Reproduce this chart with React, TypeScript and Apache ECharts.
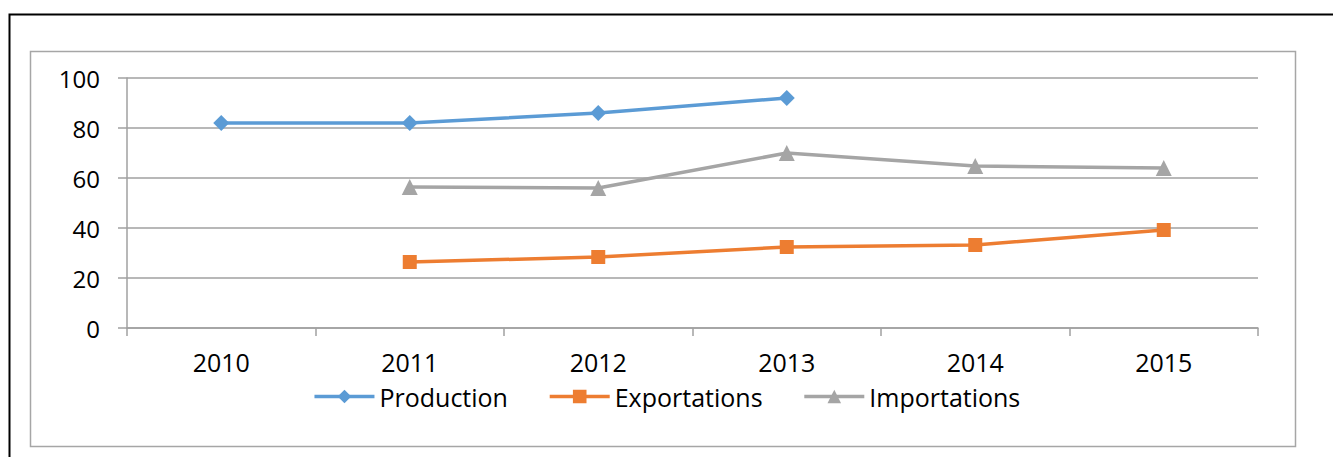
import React, { useEffect, useRef } from "react";
import * as echarts from "echarts";

const categories = ["2010", "2011", "2012", "2013", "2014", "2015"];
const production = [82, 82, 86, 92, null, null];
const exportations = [null, 26.4, 28.4, 32.4, 33.2, 39.2];
const importations = [null, 56.4, 56, 70, 64.8, 64];
const seriesNames = ["Production", "Exportations", "Importations"];
const colors = ["#5B9BD5", "#ED7D31", "#A5A5A5"];

const FONT = "'Open Sans', sans-serif";

export default function App() {
  const ref = useRef<HTMLDivElement>(null);
  useEffect(() => {
    if (!ref.current) return;
    const chart = echarts.init(ref.current, undefined, { renderer: "svg" });
    chart.setOption({
      animation: false,
      backgroundColor: "#ffffff",
      textStyle: { fontFamily: FONT },
      graphic: [
        {
          type: "rect",
          shape: { x: 9.5, y: 14.5, width: 1400, height: 500 },
          style: { fill: "none", stroke: "#000000", lineWidth: 2 },
          silent: true,
        },
        {
          type: "rect",
          shape: { x: 30.5, y: 51.5, width: 1265, height: 395 },
          style: { fill: "none", stroke: "#a6a6a6", lineWidth: 1.5 },
          silent: true,
        },
      ],
      grid: { left: 127, right: 75, top: 78, bottom: 129 },
      legend: {
        data: seriesNames,
        left: "center",
        top: 379,
        itemWidth: 60,
        itemHeight: 17,
        itemGap: 40,
        lineStyle: { width: 3.5 },
        textStyle: { fontFamily: FONT, fontSize: 25, color: "#000" },
      },
      xAxis: {
        type: "category",
        data: categories,
        boundaryGap: true,
        axisLine: { lineStyle: { color: "#a0a0a0", width: 1.5 } },
        axisTick: { show: true, length: 8, lineStyle: { color: "#a0a0a0", width: 1.5 } },
        axisLabel: { fontFamily: FONT, fontSize: 25, color: "#000", margin: 21 },
        splitLine: { show: false },
      },
      yAxis: {
        type: "value",
        min: 0,
        max: 100,
        interval: 20,
        axisLine: { show: true, lineStyle: { color: "#a0a0a0", width: 1.5 } },
        axisTick: { show: true, length: 9, lineStyle: { color: "#a0a0a0", width: 1.5 } },
        axisLabel: { fontFamily: FONT, fontSize: 24, color: "#000", margin: 27 },
        splitLine: { show: true, lineStyle: { color: "#a0a0a0", width: 1.5 } },
      },
      series: [
        {
          name: seriesNames[0],
          type: "line",
          data: production,
          symbol: "diamond",
          symbolSize: 16,
          itemStyle: { color: colors[0] },
          lineStyle: { color: colors[0], width: 3.5 },
        },
        {
          name: seriesNames[1],
          type: "line",
          data: exportations,
          symbol: "rect",
          symbolSize: 14,
          itemStyle: { color: colors[1] },
          lineStyle: { color: colors[1], width: 3.5 },
        },
        {
          name: seriesNames[2],
          type: "line",
          data: importations,
          symbol: "triangle",
          symbolSize: 16,
          itemStyle: { color: colors[2] },
          lineStyle: { color: colors[2], width: 3.5 },
        },
      ],
    });
    return () => chart.dispose();
  }, []);
  return (
    <div
      ref={ref}
      style={{ position: "absolute", left: 0, top: 0, width: 1333, height: 457 }}
    />
  );
}
